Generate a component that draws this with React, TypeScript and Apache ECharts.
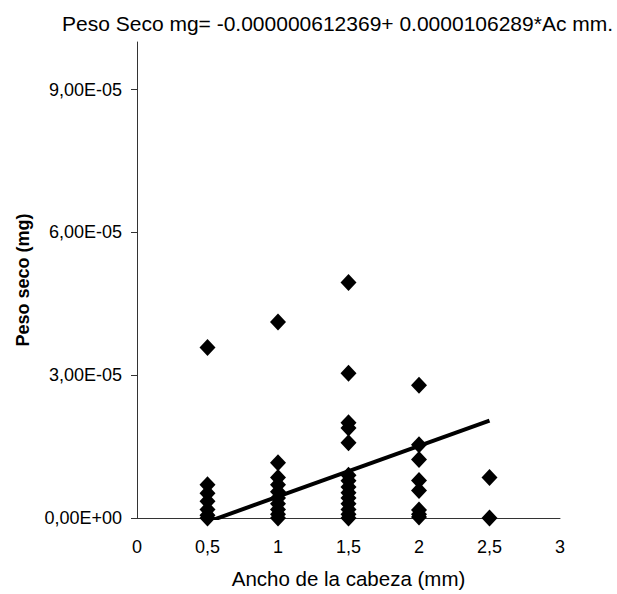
import React, { useEffect, useRef } from "react";
import * as echarts from "echarts";

const titleText = "Peso Seco mg= -0.000000612369+ 0.0000106289*Ac mm.";
const xName = "Ancho de la cabeza (mm)";
const yName = "Peso seco (mg)";

const headWidths = [0.5, 1, 1.5, 2, 2.5];
const weightsAt05 = [3.58e-5, 7.0e-6, 5.2e-6, 3.5e-6, 1.8e-6, 0.6e-6, 0];
const weightsAt10 = [4.12e-5, 1.16e-5, 8.5e-6, 7.0e-6, 5.5e-6, 4.2e-6, 3.0e-6, 1.8e-6, 0.8e-6, 0];
const weightsAt15 = [4.95e-5, 3.04e-5, 2.0e-5, 1.89e-5, 1.58e-5, 9.0e-6, 7.8e-6, 6.5e-6, 5.3e-6, 4.2e-6, 3.0e-6, 1.8e-6, 0.8e-6, 0];
const weightsAt20 = [2.79e-5, 1.54e-5, 1.23e-5, 7.9e-6, 5.8e-6, 1.7e-6, 0.8e-6, 0.2e-6];
const weightsAt25 = [8.5e-6, 0];
const weightsByWidth = [weightsAt05, weightsAt10, weightsAt15, weightsAt20, weightsAt25];

const trendX = [0.5, 2.5];
const trendY = [-8.1e-7, 2.045e-5];

const yTicks = [0, 3e-5, 6e-5, 9e-5];
const xTicks = [0, 0.5, 1, 1.5, 2, 2.5, 3];

const fmtSci = (v: number) => {
  const [m, e] = v.toExponential(2).split("e");
  const sign = e[0] === "-" ? "-" : "+";
  const n = Math.abs(parseInt(e, 10)).toString().padStart(2, "0");
  return m.replace(".", ",") + "E" + sign + n;
};

export default function App() {
  const ref = useRef<HTMLDivElement>(null);
  useEffect(() => {
    if (!ref.current) return;
    const chart = echarts.init(ref.current, null, { renderer: "svg" });
    const points: number[][] = [];
    headWidths.forEach((w, i) => weightsByWidth[i].forEach((v) => points.push([w, v])));
    const font = "'Liberation Sans', Arial, sans-serif";
    chart.setOption({
      animation: false,
      backgroundColor: "#fff",
      textStyle: { fontFamily: font, color: "#000" },
      title: {
        text: titleText,
        left: 57,
        top: 8,
        textStyle: { fontFamily: font, fontSize: 21, fontWeight: "normal", color: "#000" },
      },
      grid: { left: 137, right: 57, top: 42, bottom: 73, containLabel: false },
      xAxis: {
        type: "value",
        min: 0,
        max: 3,
        interval: 0.5,
        name: xName,
        nameLocation: "middle",
        nameGap: 50,
        nameTextStyle: { fontFamily: font, fontSize: 20.5, color: "#000" },
        splitLine: { show: false },
        axisLine: { show: true, lineStyle: { color: "#333", width: 1 } },
        axisTick: { show: false },
        axisLabel: {
          customValues: xTicks,
          margin: 20,
          fontFamily: font,
          fontSize: 18,
          color: "#000",
          formatter: (v: number) => String(v).replace(".", ","),
        },
      },
      yAxis: {
        type: "value",
        min: 0,
        max: 1e-4,
        name: yName,
        nameLocation: "middle",
        nameGap: 105,
        nameTextStyle: { fontFamily: font, fontSize: 18, fontWeight: "bold", color: "#000" },
        splitLine: { show: false },
        axisLine: { show: true, onZero: false, lineStyle: { color: "#333", width: 1 } },
        axisTick: { show: true, customValues: yTicks, length: 6, lineStyle: { color: "#333" } },
        axisLabel: {
          customValues: yTicks,
          margin: 15,
          fontFamily: font,
          fontSize: 18,
          color: "#000",
          formatter: (v: number) => fmtSci(v),
        },
      },
      series: [
        {
          type: "scatter",
          data: points,
          symbol: "diamond",
          symbolSize: [16, 17],
          itemStyle: { color: "#000", opacity: 1 },
          z: 3,
        },
        {
          type: "line",
          data: trendX.map((x, i) => [x, trendY[i]]),
          symbol: "none",
          clip: true,
          lineStyle: { color: "#000", width: 4 },
          z: 4,
        },
      ],
    });
    return () => chart.dispose();
  }, []);
  return (
    <div
      ref={ref}
      style={{ position: "fixed", left: 0, top: 0, width: 617, height: 594, background: "#fff" }}
    />
  );
}
